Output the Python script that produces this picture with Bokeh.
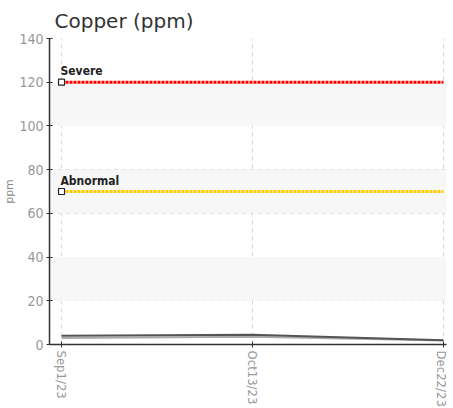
from bokeh.plotting import figure
from bokeh.models import Range1d, FixedTicker, BoxAnnotation, ColumnDataSource, LabelSet
from bokeh.embed import file_html
from bokeh.resources import INLINE
from bokeh.core.properties import value

dates = ["Sep1/23", "Oct13/23", "Dec22/23"]
series_dark = [4.0, 4.5, 2.0]
series_light = [3.0, 3.5, 1.8]
limit_names = ["Severe", "Abnormal"]
limit_values = [120, 70]
limit_colors = ["#ff0000", "#ffcc00"]
y_ticks = [0, 20, 40, 60, 80, 100, 120, 140]
bands = [(20, 40), (60, 80), (100, 120)]

idx = list(range(len(dates)))

p = figure(frame_width=397, frame_height=306, output_backend="svg", toolbar_location=None,
           x_range=Range1d(-0.063, 2.016), y_range=Range1d(0, 140),
           min_border_left=20, min_border_right=2, min_border_bottom=20, min_border_top=10)
p.title.text = "Copper (ppm)"
p.title.text_font = "DejaVu Sans"
p.title.text_font_size = "20px"
p.title.text_font_style = "normal"
p.title.text_color = "#333333"
p.title.offset = 5
p.title.standoff = 12
p.outline_line_color = None
p.background_fill_color = "white"

for b, t in bands:
    p.add_layout(BoxAnnotation(bottom=b, top=t, fill_color="#f7f7f7", fill_alpha=1, line_color=None, level="underlay"))

font = "DejaVu Sans Condensed"
p.xaxis.ticker = FixedTicker(ticks=idx)
p.xaxis.major_label_overrides = {i: d for i, d in zip(idx, dates)}
p.xaxis.major_label_orientation = "vertical"
p.yaxis.ticker = FixedTicker(ticks=y_ticks)
for ax in (p.xaxis, p.yaxis):
    ax.axis_line_color = "#333333"
    ax.axis_line_width = 1.5
    ax.major_tick_line_color = "#333333"
    ax.major_tick_in = 3
    ax.major_tick_out = 3
    ax.minor_tick_line_color = None
    ax.major_label_text_color = "#999999"
    ax.major_label_text_font = font
    ax.major_label_standoff = 3
p.xaxis.major_label_text_font_size = "13px"
p.yaxis.major_label_text_font_size = "14px"
p.yaxis.axis_label = "ppm"
p.yaxis.axis_label_text_font = "DejaVu Sans"
p.yaxis.axis_label_text_font_size = "11px"
p.yaxis.axis_label_text_font_style = "normal"
p.yaxis.axis_label_text_color = "#888888"
p.yaxis.axis_label_standoff = 0

p.grid.grid_line_color = "#d8d8d8"
p.grid.grid_line_dash = "4 4"
p.grid.grid_line_width = 1

p.line(idx, series_light, line_color="#aaaaaa", line_width=2)
p.line(idx, series_dark, line_color="#555555", line_width=2)

for name, v, c in zip(limit_names, limit_values, limit_colors):
    p.line([idx[0], idx[-1]], [v, v], line_color=c, line_width=3, line_dash="3 1")

src = ColumnDataSource(dict(x=[idx[0]] * len(limit_values), y=limit_values, t=limit_names))
p.scatter("x", "y", source=src, marker="square", size=6, fill_color="white", line_color="#222222", line_width=1.2)
p.add_layout(LabelSet(x="x", y="y", text="t", source=src, x_offset=-1, y_offset=4,
                      text_font=value(font), text_font_size="12px", text_font_style="bold",
                      text_color="#222222"))

open("out.html", "w").write(file_html(p, INLINE))
